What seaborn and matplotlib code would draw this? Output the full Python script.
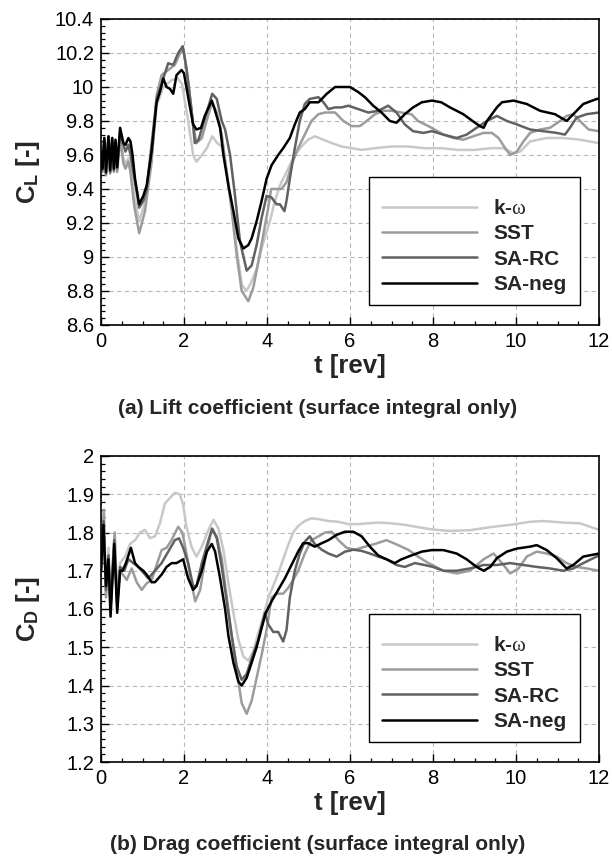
import matplotlib
matplotlib.use("Agg")
import matplotlib.pyplot as plt
from matplotlib.ticker import MultipleLocator, FuncFormatter
from matplotlib.patches import Rectangle
import numpy as np
import pandas as pd
import seaborn as sns

# ---------------- data ----------------
models = ["k-ω", "SST", "SA-RC", "SA-neg"]
legend_labels = [r"k-$\omega$", "SST", "SA-RC", "SA-neg"]
colors = ["#c8c8c8", "#9c9c9c", "#616161", "#000000"]

# Lift coefficient
t_cl_kw = [0, 0.03, 0.08, 0.12, 0.18, 0.22, 0.27, 0.31, 0.35, 0.39,
           0.46, 0.54, 0.59, 0.66, 0.71, 0.8, 0.92, 1.06, 1.22, 1.34,
           1.5, 1.7, 1.85, 1.95, 2.1, 2.22, 2.3, 2.43, 2.55, 2.68,
           2.8, 2.91, 3.03, 3.15, 3.27, 3.39, 3.5, 3.6, 3.75, 3.87,
           3.99, 4.07, 4.19, 4.31, 4.43, 4.55, 4.67, 4.83, 4.99, 5.15,
           5.36, 5.56, 5.8, 6.04, 6.28, 6.6, 7.0, 7.4, 7.8, 8.2,
           8.6, 9.0, 9.4, 9.7, 9.94, 10.1, 10.34, 10.74, 11.14, 11.54,
           12.0]
cl_kw = [9.62, 9.52, 9.69, 9.49, 9.70, 9.50, 9.69, 9.51, 9.67, 9.52,
         9.72, 9.58, 9.55, 9.58, 9.52, 9.36, 9.21, 9.32, 9.58, 9.89,
         10.0, 10.04, 10.05, 10.02, 9.80, 9.60, 9.56, 9.60, 9.64, 9.71,
         9.67, 9.65, 9.50, 9.31, 9.05, 8.84, 8.80, 8.84, 8.93, 9.05,
         9.15, 9.21, 9.33, 9.42, 9.48, 9.54, 9.60, 9.65, 9.69, 9.71,
         9.69, 9.67, 9.65, 9.64, 9.63, 9.64, 9.65, 9.65, 9.64, 9.64,
         9.63, 9.63, 9.64, 9.64, 9.61, 9.62, 9.68, 9.70, 9.70, 9.69,
         9.67]

t_cl_sst = [0, 0.03, 0.08, 0.12, 0.18, 0.22, 0.27, 0.31, 0.35, 0.39,
            0.46, 0.54, 0.59, 0.66, 0.71, 0.8, 0.92, 1.06, 1.22, 1.34,
            1.46, 1.62, 1.78, 1.94, 2.0, 2.1, 2.22, 2.3, 2.43, 2.59,
            2.68, 2.79, 2.91, 3.03, 3.15, 3.27, 3.39, 3.55, 3.67, 3.79,
            3.91, 4.03, 4.1, 4.35, 4.47, 4.59, 4.75, 4.91, 5.07, 5.24,
            5.4, 5.64, 5.84, 6.04, 6.24, 6.4, 6.6, 6.8, 7.0, 7.24,
            7.48, 7.64, 7.89, 8.25, 8.49, 8.73, 8.97, 9.22, 9.42, 9.58,
            9.74, 9.86, 10.02, 10.18, 10.34, 10.58, 10.82, 11.06, 11.22, 11.38,
            11.54, 11.75, 12.0]
cl_sst = [9.60, 9.50, 9.68, 9.48, 9.70, 9.49, 9.68, 9.50, 9.66, 9.50,
          9.70, 9.55, 9.52, 9.56, 9.50, 9.30, 9.14, 9.27, 9.56, 9.95,
          10.07, 10.10, 10.13, 10.22, 10.20, 10.03, 9.78, 9.67, 9.70, 9.84,
          9.91, 9.85, 9.72, 9.50, 9.27, 9.01, 8.80, 8.74, 8.82, 8.97,
          9.13, 9.29, 9.40, 9.40, 9.44, 9.54, 9.64, 9.72, 9.80, 9.84,
          9.85, 9.85, 9.80, 9.77, 9.77, 9.80, 9.84, 9.86, 9.86, 9.85,
          9.84, 9.80, 9.77, 9.72, 9.70, 9.69, 9.71, 9.73, 9.73, 9.70,
          9.64, 9.60, 9.62, 9.68, 9.73, 9.75, 9.76, 9.80, 9.83, 9.84,
          9.80, 9.75, 9.74]

t_cl_sarc = [0, 0.03, 0.08, 0.12, 0.18, 0.22, 0.27, 0.31, 0.35, 0.39,
             0.46, 0.54, 0.59, 0.66, 0.71, 0.82, 0.92, 1.02, 1.1, 1.34,
             1.46, 1.62, 1.74, 1.86, 1.97, 2.06, 2.18, 2.26, 2.35, 2.51,
             2.68, 2.79, 2.91, 2.99, 3.11, 3.23, 3.35, 3.51, 3.63, 3.75,
             3.87, 3.99, 4.11, 4.23, 4.31, 4.42, 4.47, 4.55, 4.67, 4.79,
             4.91, 5.03, 5.24, 5.36, 5.48, 5.64, 5.8, 5.96, 6.2, 6.44,
             6.68, 6.92, 7.12, 7.32, 7.52, 7.77, 7.97, 8.25, 8.57, 8.81,
             9.05, 9.3, 9.54, 9.78, 10.02, 10.34, 10.66, 10.98, 11.18, 11.3,
             11.46, 11.7, 12.0]
cl_sarc = [9.62, 9.51, 9.70, 9.49, 9.71, 9.50, 9.70, 9.51, 9.68, 9.52,
           9.74, 9.66, 9.62, 9.66, 9.60, 9.44, 9.29, 9.33, 9.40, 9.93,
           10.02, 10.14, 10.13, 10.20, 10.24, 10.11, 9.87, 9.67, 9.69, 9.82,
           9.96, 9.93, 9.80, 9.75, 9.60, 9.36, 9.09, 8.92, 8.95, 9.07,
           9.23, 9.36, 9.35, 9.31, 9.31, 9.27, 9.33, 9.46, 9.64, 9.80,
           9.90, 9.93, 9.94, 9.91, 9.87, 9.88, 9.88, 9.89, 9.87, 9.85,
           9.86, 9.89, 9.85, 9.78, 9.74, 9.73, 9.74, 9.72, 9.70, 9.72,
           9.76, 9.80, 9.83, 9.80, 9.78, 9.75, 9.74, 9.73, 9.72, 9.76,
           9.82, 9.84, 9.85]

t_cl_saneg = [0, 0.03, 0.08, 0.12, 0.18, 0.22, 0.27, 0.31, 0.35, 0.39,
              0.46, 0.54, 0.59, 0.66, 0.71, 0.76, 0.82, 0.92, 1.02, 1.1,
              1.22, 1.34, 1.42, 1.5, 1.58, 1.66, 1.74, 1.82, 1.94, 2.0,
              2.1, 2.22, 2.3, 2.41, 2.5, 2.67, 2.75, 2.87, 2.95, 3.07,
              3.19, 3.31, 3.43, 3.55, 3.63, 3.75, 3.87, 3.99, 4.11, 4.27,
              4.39, 4.55, 4.67, 4.79, 4.91, 5.03, 5.24, 5.44, 5.64, 5.84,
              6.0, 6.2, 6.36, 6.56, 6.76, 6.96, 7.12, 7.32, 7.52, 7.73,
              7.97, 8.2, 8.41, 8.73, 9.01, 9.13, 9.22, 9.3, 9.54, 9.66,
              9.94, 10.26, 10.58, 10.94, 11.22, 11.38, 11.62, 11.95, 12.0]
cl_saneg = [9.62, 9.52, 9.70, 9.50, 9.71, 9.51, 9.70, 9.52, 9.69, 9.53,
            9.76, 9.67, 9.66, 9.70, 9.68, 9.60, 9.46, 9.31, 9.36, 9.42,
            9.62, 9.91, 9.97, 10.05, 10.00, 9.99, 9.96, 10.07, 10.10, 10.08,
            9.94, 9.78, 9.75, 9.76, 9.83, 9.92, 9.86, 9.76, 9.60, 9.42,
            9.27, 9.11, 9.05, 9.07, 9.11, 9.21, 9.33, 9.46, 9.54, 9.60,
            9.64, 9.70, 9.78, 9.85, 9.87, 9.91, 9.91, 9.96, 10.00, 10.00,
            10.00, 9.97, 9.94, 9.89, 9.85, 9.80, 9.79, 9.84, 9.88, 9.91,
            9.92, 9.91, 9.88, 9.84, 9.79, 9.77, 9.76, 9.80, 9.88, 9.91,
            9.92, 9.90, 9.86, 9.84, 9.80, 9.84, 9.90, 9.93, 9.93]

# Drag coefficient
t_cd_kw = [0, 0.06, 0.12, 0.18, 0.23, 0.32, 0.39, 0.46, 0.58, 0.7,
           0.82, 0.94, 1.06, 1.18, 1.3, 1.42, 1.54, 1.66, 1.78, 1.9,
           1.98, 2.06, 2.18, 2.3, 2.43, 2.59, 2.71, 2.83, 2.95, 3.07,
           3.19, 3.31, 3.43, 3.55, 3.67, 3.79, 3.91, 4.03, 4.11, 4.27,
           4.39, 4.51, 4.63, 4.75, 4.91, 5.07, 5.24, 5.48, 5.72, 5.96,
           6.2, 6.44, 6.68, 7.0, 7.32, 7.64, 7.97, 8.41, 8.89, 9.38,
           9.86, 10.34, 10.66, 11.14, 11.54, 12.0]
cd_kw = [1.70, 1.85, 1.64, 1.76, 1.62, 1.79, 1.64, 1.72, 1.737, 1.77,
         1.78, 1.80, 1.807, 1.785, 1.79, 1.824, 1.876, 1.89, 1.904, 1.90,
         1.872, 1.815, 1.763, 1.737, 1.763, 1.807, 1.833, 1.81, 1.754, 1.667,
         1.59, 1.52, 1.476, 1.465, 1.49, 1.537, 1.58, 1.63, 1.65, 1.693,
         1.73, 1.767, 1.80, 1.817, 1.83, 1.837, 1.835, 1.83, 1.828, 1.822,
         1.822, 1.824, 1.826, 1.824, 1.82, 1.814, 1.808, 1.804, 1.806, 1.814,
         1.82, 1.828, 1.83, 1.826, 1.824, 1.807]

t_cd_sst = [0, 0.07, 0.12, 0.18, 0.23, 0.33, 0.39, 0.46, 0.62, 0.74,
            0.86, 0.98, 1.1, 1.22, 1.34, 1.46, 1.58, 1.7, 1.86, 1.96,
            2.06, 2.18, 2.27, 2.39, 2.51, 2.67, 2.79, 2.91, 3.03, 3.15,
            3.27, 3.39, 3.51, 3.63, 3.75, 3.87, 3.99, 4.11, 4.23, 4.39,
            4.51, 4.63, 4.75, 4.91, 5.07, 5.24, 5.4, 5.56, 5.72, 5.92,
            6.12, 6.36, 6.6, 6.88, 7.16, 7.4, 7.64, 7.89, 8.25, 8.57,
            8.89, 9.22, 9.46, 9.7, 9.86, 10.06, 10.26, 10.5, 10.74, 10.98,
            11.22, 11.46, 11.7, 12.0]
cd_sst = [1.70, 1.86, 1.63, 1.74, 1.61, 1.80, 1.62, 1.70, 1.676, 1.706,
          1.67, 1.65, 1.667, 1.676, 1.715, 1.754, 1.76, 1.78, 1.815, 1.80,
          1.745, 1.667, 1.62, 1.65, 1.73, 1.81, 1.79, 1.73, 1.63, 1.53,
          1.44, 1.354, 1.326, 1.36, 1.42, 1.48, 1.545, 1.63, 1.64, 1.64,
          1.655, 1.676, 1.70, 1.745, 1.78, 1.79, 1.80, 1.802, 1.78, 1.76,
          1.755, 1.763, 1.77, 1.78, 1.767, 1.755, 1.737, 1.72, 1.70, 1.693,
          1.70, 1.73, 1.745, 1.715, 1.693, 1.706, 1.737, 1.75, 1.745, 1.737,
          1.72, 1.71, 1.706, 1.70]

t_cd_sarc = [0, 0.06, 0.12, 0.18, 0.23, 0.32, 0.39, 0.46, 0.56, 0.66,
             0.9, 1.14, 1.3, 1.46, 1.62, 1.78, 1.88, 1.98, 2.1, 2.22,
             2.3, 2.43, 2.59, 2.68, 2.79, 2.91, 3.03, 3.15, 3.27, 3.39,
             3.51, 3.63, 3.79, 3.95, 4.03, 4.15, 4.27, 4.39, 4.47, 4.55,
             4.67, 4.79, 4.91, 5.03, 5.15, 5.32, 5.48, 5.68, 5.88, 6.08,
             6.28, 6.48, 6.68, 6.88, 7.12, 7.32, 7.56, 7.8, 8.0, 8.25,
             8.57, 8.89, 9.22, 9.54, 9.86, 10.18, 10.5, 10.82, 11.14, 11.38,
             11.62, 12.0]
cd_sarc = [1.70, 1.83, 1.65, 1.74, 1.60, 1.78, 1.61, 1.71, 1.70, 1.73,
           1.71, 1.68, 1.70, 1.72, 1.75, 1.78, 1.785, 1.76, 1.72, 1.66,
           1.66, 1.72, 1.78, 1.81, 1.785, 1.71, 1.62, 1.53, 1.45, 1.415,
           1.43, 1.47, 1.52, 1.59, 1.56, 1.54, 1.54, 1.515, 1.545, 1.63,
           1.70, 1.745, 1.776, 1.79, 1.77, 1.755, 1.745, 1.737, 1.75, 1.755,
           1.752, 1.745, 1.737, 1.73, 1.715, 1.71, 1.72, 1.715, 1.71, 1.70,
           1.70, 1.706, 1.715, 1.715, 1.72, 1.715, 1.71, 1.706, 1.70, 1.706,
           1.72, 1.74]

t_cd_saneg = [0, 0.06, 0.12, 0.18, 0.23, 0.32, 0.39, 0.46, 0.52, 0.6,
              0.72, 0.82, 0.9, 1.02, 1.1, 1.22, 1.3, 1.46, 1.58, 1.7,
              1.82, 1.98, 2.1, 2.22, 2.3, 2.43, 2.55, 2.67, 2.75, 2.87,
              2.99, 3.07, 3.19, 3.31, 3.39, 3.51, 3.63, 3.75, 3.87, 3.97,
              4.11, 4.27, 4.43, 4.59, 4.75, 4.87, 4.99, 5.15, 5.32, 5.48,
              5.68, 5.88, 6.08, 6.28, 6.48, 6.68, 6.88, 7.08, 7.24, 7.48,
              7.73, 7.97, 8.25, 8.57, 8.81, 9.05, 9.22, 9.38, 9.54, 9.78,
              10.02, 10.34, 10.5, 10.74, 10.98, 11.14, 11.22, 11.38, 11.62, 12.0]
cd_saneg = [1.70, 1.82, 1.66, 1.73, 1.58, 1.77, 1.59, 1.70, 1.70, 1.72,
            1.76, 1.72, 1.71, 1.70, 1.69, 1.67, 1.67, 1.69, 1.71, 1.72,
            1.72, 1.73, 1.68, 1.65, 1.66, 1.70, 1.75, 1.77, 1.75, 1.68,
            1.60, 1.53, 1.46, 1.41, 1.40, 1.42, 1.46, 1.50, 1.55, 1.59,
            1.62, 1.65, 1.68, 1.715, 1.75, 1.772, 1.772, 1.763, 1.772, 1.78,
            1.794, 1.802, 1.802, 1.79, 1.763, 1.74, 1.73, 1.72, 1.73, 1.74,
            1.75, 1.754, 1.754, 1.745, 1.73, 1.71, 1.70, 1.71, 1.733, 1.75,
            1.758, 1.763, 1.767, 1.754, 1.733, 1.715, 1.706, 1.715, 1.737, 1.745]

x_ticks = [0, 2, 4, 6, 8, 10, 12]
cl_ticks = [8.6, 8.8, 9.0, 9.2, 9.4, 9.6, 9.8, 10.0, 10.2, 10.4]
cd_ticks = [1.2, 1.3, 1.4, 1.5, 1.6, 1.7, 1.8, 1.9, 2.0]


def long_frame(ts, vs):
    frames = []
    for m, t, v in zip(models, ts, vs):
        frames.append(pd.DataFrame({"t": t, "value": v, "model": m}))
    return pd.concat(frames, ignore_index=True)


df_cl = long_frame([t_cl_kw, t_cl_sst, t_cl_sarc, t_cl_saneg],
                   [cl_kw, cl_sst, cl_sarc, cl_saneg])
df_cd = long_frame([t_cd_kw, t_cd_sst, t_cd_sarc, t_cd_saneg],
                   [cd_kw, cd_sst, cd_sarc, cd_saneg])

# ---------------- style ----------------
sns.set_theme(style="white")
plt.rcParams["font.family"] = ["Liberation Sans", "DejaVu Sans"]
plt.rcParams["mathtext.fontset"] = "custom"
plt.rcParams["mathtext.rm"] = "Liberation Sans:bold"
plt.rcParams["mathtext.bf"] = "Liberation Sans:bold"
plt.rcParams["mathtext.it"] = "Liberation Serif"

fig = plt.figure(figsize=(6.12, 8.59), dpi=100)
fig.patch.set_facecolor("white")

W = 612.0
H = 859.0
ax_left = 101 / W
ax_w = (599 - 101) / W
ax_h = 306 / H
ax1 = fig.add_axes([ax_left, 1 - 325 / H, ax_w, ax_h])
ax2 = fig.add_axes([ax_left, 1 - 762 / H, ax_w, ax_h])

palette = dict(zip(models, colors))
fmt = FuncFormatter(lambda v, p: "%g" % round(v, 3))

panels = [
    (ax1, df_cl, cl_ticks, 0.04, r"C$_\mathrm{L}$ [-]",
     "(a) Lift coefficient (surface integral only)", 1 - 408 / H),
    (ax2, df_cd, cd_ticks, 0.02, r"C$_\mathrm{D}$ [-]",
     "(b) Drag coefficient (surface integral only)", 1 - 845 / H),
]

for ax, df, yt, yminor, ylab, cap, cap_y in panels:
    sns.lineplot(data=df, x="t", y="value", hue="model", hue_order=models,
                 palette=palette, estimator=None, sort=False, lw=1.8,
                 legend=False, ax=ax)
    ax.set_xlim(x_ticks[0], x_ticks[-1])
    ax.set_ylim(yt[0], yt[-1])
    ax.set_xticks(x_ticks)
    ax.set_yticks(yt)
    ax.xaxis.set_minor_locator(MultipleLocator(0.5))
    ax.yaxis.set_minor_locator(MultipleLocator(yminor))
    ax.yaxis.set_major_formatter(fmt)
    ax.xaxis.set_major_formatter(fmt)
    ax.set_axisbelow(True)
    ax.grid(True, which="major", linestyle=(0, (4, 3)), color="#b8b8b8", lw=0.8)
    ax.tick_params(which="both", direction="in", top=False, right=False,
                   bottom=True, left=True, colors="black", labelsize=14.5)
    ax.tick_params(which="major", length=5.5, width=1.0, pad=5)
    ax.tick_params(which="minor", length=3, width=0.9)
    for s in ax.spines.values():
        s.set_color("black")
        s.set_linewidth(1.2)
    ax.set_xlabel("t [rev]", fontsize=18.5, fontweight="bold", labelpad=2)
    ax.set_ylabel(ylab, fontsize=18.5, fontweight="bold")
    ax.yaxis.set_label_coords(-0.118, 0.5)

    # legend frame (drawn separately so its padding matches the reference)
    box = Rectangle((0.538, 0.065), 0.4237, 0.4187, transform=ax.transAxes,
                    facecolor="white", edgecolor="black", lw=1.0, zorder=5)
    ax.add_patch(box)
    handles = ax.get_lines()[:4]
    leg = ax.legend(handles, legend_labels, loc="center",
                    bbox_to_anchor=(0.749, 0.2565), borderaxespad=0,
                    frameon=False, handlelength=4.6,
                    handletextpad=0.75, labelspacing=0.31, borderpad=0.0,
                    prop={"weight": "bold", "size": 15})
    leg.set_zorder(6)

    fig.text(318 / W, cap_y, cap, ha="center", va="center",
             fontsize=15, fontweight="bold")

fig.savefig("out.png", dpi=100, facecolor="white")
